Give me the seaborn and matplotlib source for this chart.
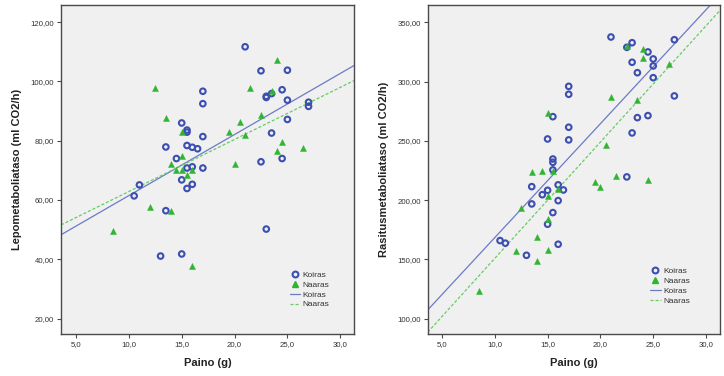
import numpy as np
import pandas as pd
import matplotlib
matplotlib.use("Agg")
import matplotlib.pyplot as plt
from matplotlib.lines import Line2D
from matplotlib.ticker import FuncFormatter
import seaborn as sns

# ---------------- data ----------------
# Left panel: Lepometaboliataso (resting metabolic rate)
rest_koiras_weight = [21.0, 22.5, 25.0, 24.5, 23.0, 23.0, 23.5, 25.0, 27.0, 27.0, 25.0, 23.5, 22.5,
                      24.5, 23.0, 17.0, 17.0, 15.0, 15.5, 15.5, 17.0, 13.5, 15.5, 16.0, 16.5, 14.5,
                      15.5, 16.0, 17.0, 15.0, 16.0, 15.5, 11.0, 10.5, 13.5, 13.0, 15.0]
rest_koiras_rate = [111.7, 103.6, 103.8, 97.2, 95.0, 94.6, 95.9, 93.7, 93.0, 91.6, 87.2, 82.6, 72.9,
                    74.0, 50.2, 96.7, 92.5, 86.0, 83.6, 82.9, 81.4, 77.9, 78.4, 77.8, 77.3, 74.0,
                    70.8, 71.2, 70.8, 66.8, 65.3, 63.9, 65.1, 61.4, 56.4, 41.1, 41.8]
rest_naaras_weight = [12.5, 24.0, 21.5, 23.5, 13.5, 20.5, 22.5, 15.0, 19.5, 21.0, 24.5, 26.5, 24.0,
                      15.0, 14.0, 20.0, 14.5, 15.0, 16.0, 15.5, 12.0, 14.0, 8.5, 16.0]
rest_naaras_rate = [97.7, 107.4, 97.7, 96.8, 87.6, 86.2, 88.6, 82.9, 82.9, 82.1, 79.5, 77.5, 76.6,
                    74.8, 72.1, 72.3, 70.1, 70.3, 70.2, 68.3, 57.8, 56.3, 49.7, 37.6]

# Right panel: Rasitusmetaboliataso (exercise metabolic rate)
ex_koiras_weight = [21.0, 23.0, 22.5, 24.5, 25.0, 27.0, 23.0, 25.0, 23.5, 25.0, 27.0, 17.0, 17.0,
                    15.5, 23.5, 24.5, 17.0, 15.0, 17.0, 23.0, 15.5, 15.5, 15.5, 22.5, 13.5, 16.0,
                    15.0, 16.5, 14.5, 13.5, 16.0, 15.5, 15.0, 10.5, 11.0, 16.0, 13.0]
ex_koiras_rate = [337.6, 332.8, 328.9, 325.0, 319.1, 335.3, 316.3, 313.2, 307.5, 303.3, 287.9, 296.0, 289.3,
                  270.4, 269.6, 271.3, 261.5, 251.6, 250.8, 256.7, 234.7, 231.9, 225.5, 219.6, 211.4, 212.9,
                  208.3, 208.6, 204.6, 196.8, 199.6, 189.5, 179.7, 165.9, 163.7, 162.8, 153.5]
ex_naaras_weight = [22.5, 24.0, 24.0, 26.5, 21.0, 23.5, 15.0, 20.5, 13.5, 14.5, 15.5, 21.5, 24.5,
                    19.5, 20.0, 16.0, 15.0, 12.5, 15.0, 14.0, 12.0, 15.0, 14.0, 8.5]
ex_naaras_rate = [330.3, 327.7, 319.9, 314.6, 287.3, 284.5, 273.3, 246.5, 223.6, 224.4, 224.6, 220.6, 216.8,
                  215.1, 211.4, 209.2, 203.5, 193.4, 183.9, 169.2, 156.9, 157.9, 148.9, 123.4]

# Fit lines (intercept, slope) as drawn in the reference
rest_koiras_fit = [40.9, 2.06]
rest_naaras_fit = [45.3, 1.757]
ex_koiras_fit = [72.3, 9.61]
ex_naaras_fit = [52.8, 9.81]

sexes = ["Koiras", "Naaras"]
x_label = "Paino (g)"
y_labels = ["Lepometaboliataso (ml CO2/h)", "Rasitusmetaboliataso (ml CO2/h)"]
x_ticks = [5, 10, 15, 20, 25, 30]
left_y_ticks = [20, 40, 60, 80, 100, 120]
right_y_ticks = [100, 150, 200, 250, 300, 350]

# ---------------- styling ----------------
sns.set_theme(style="white")
plt.rcParams["font.family"] = ["Liberation Sans", "DejaVu Sans"]

BLUE = "#3c4fb0"
GREEN = "#2fb52f"
BLUE_LINE = "#6b7bc6"
GREEN_LINE = "#66cc66"
BG = "#f0f0f0"
SPINE = "#4a4a4a"

fig = plt.figure(figsize=(7.24, 3.76), dpi=100)
ax1 = fig.add_axes([61 / 724, 42 / 376, 293 / 724, 329 / 376])
ax2 = fig.add_axes([427.7 / 724, 42 / 376, 292.6 / 724, 329 / 376])


def make_df(w, r, sex):
    return pd.DataFrame({"Paino": w, "Rate": r, "Sukupuoli": sex})


def draw_panel(ax, kw, kr, nw, nr, kfit, nfit, xlim, ylim, yticks, ylabel, legend_anchor):
    ax.set_facecolor(BG)
    dfk = make_df(kw, kr, sexes[0])
    dfn = make_df(nw, nr, sexes[1])
    sns.scatterplot(data=dfk, x="Paino", y="Rate", ax=ax, marker="o", s=16,
                    facecolor="none", edgecolor=BLUE, linewidth=1.5, zorder=3)
    sns.scatterplot(data=dfn, x="Paino", y="Rate", ax=ax, marker="^", s=19,
                    color=GREEN, edgecolor=GREEN, linewidth=0.3, zorder=3)
    xs = np.array(xlim)
    ax.plot(xs, kfit[0] + kfit[1] * xs, color=BLUE_LINE, lw=0.9, zorder=2)
    ax.plot(xs, nfit[0] + nfit[1] * xs, color=GREEN_LINE, lw=0.9, ls=(0, (2.5, 1.5)), zorder=2)
    ax.set_xlim(*xlim)
    ax.set_ylim(*ylim)
    ax.set_xticks(x_ticks)
    ax.set_yticks(yticks)
    ax.xaxis.set_major_formatter(FuncFormatter(lambda v, p: f"{v:.1f}".replace(".", ",")))
    ax.yaxis.set_major_formatter(FuncFormatter(lambda v, p: f"{v:.2f}".replace(".", ",")))
    ax.tick_params(axis="both", which="major", direction="out", length=3, width=0.8,
                   color=SPINE, labelsize=5.6, labelcolor="#333333", pad=2,
                   bottom=True, left=True)
    for sp in ax.spines.values():
        sp.set_color(SPINE)
        sp.set_linewidth(1.0)
    ax.set_xlabel(x_label, fontsize=8, fontweight="bold", color="#222222", labelpad=7)
    ax.set_ylabel(ylabel, fontsize=8, fontweight="bold", color="#222222", labelpad=6)

    handles = [
        Line2D([], [], marker="o", ls="none", markerfacecolor="none", markeredgecolor=BLUE,
               markeredgewidth=1.5, markersize=4.2),
        Line2D([], [], marker="^", ls="none", color=GREEN, markersize=4.5),
        Line2D([], [], color=BLUE_LINE, lw=0.9),
        Line2D([], [], color=GREEN_LINE, lw=0.9, ls=(0, (2.5, 1.5))),
    ]
    labels = [sexes[0], sexes[1], sexes[0], sexes[1]]
    leg = ax.legend(handles, labels, loc="lower left", bbox_to_anchor=legend_anchor,
                    frameon=False, fontsize=6, handlelength=1.3, handletextpad=0.3,
                    labelspacing=0.25, borderpad=0.2)
    for t in leg.get_texts():
        t.set_color("#333333")


draw_panel(ax1, rest_koiras_weight, rest_koiras_rate, rest_naaras_weight, rest_naaras_rate,
           rest_koiras_fit, rest_naaras_fit, (3.58, 31.3), (14.8, 125.8), left_y_ticks,
           y_labels[0], (0.76, 0.06))
draw_panel(ax2, ex_koiras_weight, ex_koiras_rate, ex_naaras_weight, ex_naaras_rate,
           ex_koiras_fit, ex_naaras_fit, (3.65, 31.35), (87.1, 364.6), right_y_ticks,
           y_labels[1], (0.74, 0.07))

fig.savefig("out.png", dpi=100, facecolor="white")
